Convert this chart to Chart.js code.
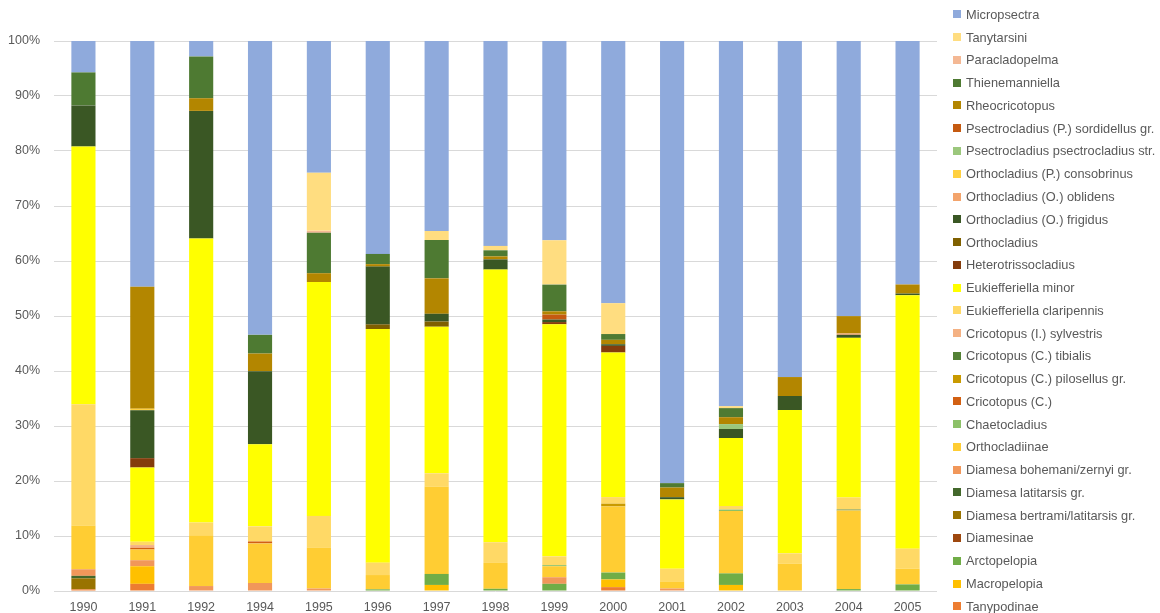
<!DOCTYPE html>
<html>
<head>
<meta charset="utf-8">
<script src="https://cdn.jsdelivr.net/npm/chart.js"></script>
<style>
  body { margin: 0; background: #fff; }
  #wrap { position: relative; width: 1160px; height: 613px; }
  #legend { position: absolute; left: 953px; top: 3px; font-family: "Liberation Sans", sans-serif; font-size: 12.8px; color: #595959; }
  #legend .item { height: 22.77px; display: flex; align-items: center; white-space: nowrap; }
  #legend .box { width: 8px; height: 8px; margin-right: 5px; flex: none; }
</style>
</head>
<body>
<div id="wrap">
  <canvas id="chironomides" width="1160" height="613"></canvas>
  <div id="legend"></div>
</div>
<script>
// Années échantillonnées
var annees = ['1990', '1991', '1992', '1994', '1995', '1996', '1997', '1998', '1999', '2000', '2001', '2002', '2003', '2004', '2005'];

// Part de chaque taxon (%) par année
var tanypodinae          = [0.3, 1.3, 0, 0, 0, 0, 0, 0, 0, 0.7, 0, 0, 0, 0, 0];
var macropelopia         = [0, 3.2, 0, 0, 0, 0, 1.1, 0, 0, 1.4, 0, 1.1, 0, 0, 0];
var arctopelopia         = [0, 0, 0, 0, 0, 0.3, 2.0, 0.4, 1.3, 1.25, 0, 2.1, 0, 0.35, 1.2];
var diamesinae           = [0, 0, 0, 0, 0, 0, 0, 0, 0, 0, 0, 0, 0, 0, 0];
var diamesaBertrami      = [2.0, 0, 0, 0, 0, 0, 0, 0, 0, 0, 0, 0, 0, 0, 0];
var diamesaLatitarsis    = [0.45, 0, 0, 0, 0, 0, 0, 0, 0, 0, 0, 0, 0, 0, 0];
var diamesaBohemani      = [1.2, 1.1, 0.9, 1.45, 0.45, 0, 0, 0, 1.2, 0, 0.45, 0, 0, 0, 0];
var orthocladiinae       = [7.95, 1.95, 9.25, 7.2, 7.4, 2.6, 15.9, 4.7, 2.0, 12.0, 1.3, 11.35, 5.0, 14.3, 2.85];
var chaetocladius        = [0, 0, 0, 0, 0, 0, 0, 0, 0.2, 0, 0, 0.25, 0, 0, 0];
var cricotopusC          = [0, 0.3, 0, 0.35, 0, 0, 0, 0, 0, 0, 0, 0, 0, 0, 0];
var cricotopusPilosellus = [0, 0, 0, 0, 0, 0, 0, 0, 0, 0.5, 0, 0, 0, 0, 0];
var cricotopusTibialis   = [0, 0, 0, 0, 0, 0, 0, 0, 0, 0, 0, 0, 0, 0.15, 0];
var cricotopusSylvestris = [0, 0.5, 0, 0, 0, 0, 0, 0, 0, 0, 0, 0, 0, 0, 0];
var eukClaripennis       = [22.0, 0.6, 2.3, 2.75, 5.8, 2.25, 2.4, 3.75, 1.6, 1.2, 2.3, 0.65, 1.85, 2.2, 3.65];
var eukMinor             = [46.8, 13.5, 51.6, 14.9, 42.5, 42.45, 26.65, 49.5, 42.15, 26.25, 12.6, 12.35, 26.05, 29.0, 46.05];
var heterotrissocladius  = [0, 1.7, 0, 0, 0, 0, 0, 0, 0.4, 1.2, 0, 0, 0, 0, 0];
var orthocladius         = [0, 0, 0, 0, 0, 0.85, 0.95, 0, 0, 0, 0, 0, 0, 0, 0];
var orthoFrigidus        = [7.45, 8.7, 23.2, 13.3, 0, 10.5, 1.4, 1.85, 0.45, 0.3, 0.4, 1.65, 2.55, 0.55, 0.3];
var orthoOblidens        = [0, 0, 0, 0, 0, 0, 0, 0, 0, 0, 0, 0, 0, 0.25, 0];
var orthoConsobrinus     = [0, 0.3, 0, 0, 0, 0, 0, 0, 0, 0, 0, 0, 0, 0, 0];
var psectroPsectro       = [0, 0, 0, 0, 0, 0, 0, 0, 0, 0, 0, 0.9, 0, 0, 0];
var psectroSordidellus   = [0, 0, 0, 0, 0, 0, 0, 0, 0.9, 0, 0, 0, 0, 0, 0];
var rheocricotopus       = [0, 22.15, 2.3, 3.2, 1.6, 0.45, 6.45, 0.55, 0.6, 0.8, 1.75, 1.25, 3.45, 3.15, 1.65];
var thienemanniella      = [6.0, 0, 7.6, 3.4, 7.35, 1.85, 6.95, 1.1, 4.85, 1.05, 0.8, 1.65, 0, 0, 0];
var paracladopelma       = [0, 0, 0, 0, 0.35, 0, 0, 0, 0, 0, 0, 0, 0, 0, 0];
var tanytarsini          = [0, 0, 0, 0, 10.55, 0, 1.65, 0.8, 8.05, 5.6, 0, 0.35, 0, 0, 0];
var micropsectra         = [5.7, 44.7, 2.8, 53.4, 23.95, 38.7, 34.55, 37.2, 36.2, 47.6, 80.35, 66.4, 61.1, 50.0, 44.25];

// Empilement du bas vers le haut
var taxons = [
  ['Tanypodinae', tanypodinae],
  ['Macropelopia', macropelopia],
  ['Arctopelopia', arctopelopia],
  ['Diamesinae', diamesinae],
  ['Diamesa bertrami/latitarsis gr.', diamesaBertrami],
  ['Diamesa latitarsis gr.', diamesaLatitarsis],
  ['Diamesa bohemani/zernyi gr.', diamesaBohemani],
  ['Orthocladiinae', orthocladiinae],
  ['Chaetocladius', chaetocladius],
  ['Cricotopus (C.)', cricotopusC],
  ['Cricotopus (C.) pilosellus gr.', cricotopusPilosellus],
  ['Cricotopus (C.) tibialis', cricotopusTibialis],
  ['Cricotopus (I.) sylvestris', cricotopusSylvestris],
  ['Eukiefferiella claripennis', eukClaripennis],
  ['Eukiefferiella minor', eukMinor],
  ['Heterotrissocladius', heterotrissocladius],
  ['Orthocladius', orthocladius],
  ['Orthocladius (O.) frigidus', orthoFrigidus],
  ['Orthocladius (O.) oblidens', orthoOblidens],
  ['Orthocladius (P.) consobrinus', orthoConsobrinus],
  ['Psectrocladius psectrocladius str.', psectroPsectro],
  ['Psectrocladius (P.) sordidellus gr.', psectroSordidellus],
  ['Rheocricotopus', rheocricotopus],
  ['Thienemanniella', thienemanniella],
  ['Paracladopelma', paracladopelma],
  ['Tanytarsini', tanytarsini],
  ['Micropsectra', micropsectra]
];

// Couleurs dans le même ordre
var couleurs = [
  '#ED7D31', '#FFC000', '#70AD47', '#9E480E', '#997300', '#43682B', '#F1975A',
  '#FFCD33', '#8CC168', '#D26012', '#C99A00', '#538135', '#F4B183', '#FFD966',
  '#FFFF00', '#843C0C', '#7F6000', '#3A5724', '#F3A46C', '#FFD040', '#9BC77C',
  '#C55A11', '#B38600', '#4E7A32', '#F4B894', '#FFDD80', '#8FAADC'
];

// Total par année pour ramener chaque colonne à 100 %
var totaux = annees.map(function (a, i) {
  return taxons.reduce(function (s, t) { return s + t[1][i]; }, 0);
});

var datasets = taxons.map(function (t, k) {
  return {
    label: t[0],
    data: t[1].map(function (v, i) { return v / totaux[i] * 100; }),
    backgroundColor: couleurs[k],
    borderWidth: 0,
    barPercentage: 0.41,
    categoryPercentage: 1
  };
});

var ctx = document.getElementById('chironomides').getContext('2d');
var chart = new Chart(ctx, {
  type: 'bar',
  data: { labels: annees, datasets: datasets },
  options: {
    responsive: false,
    animation: false,
    layout: { padding: { top: 41, right: 223, bottom: 0, left: 0 } },
    scales: {
      x: {
        stacked: true,
        grid: { display: false, drawTicks: false },
        border: { display: false },
        ticks: { color: '#595959', padding: 9, font: { family: 'Liberation Sans', size: 12.5 } },
        afterFit: function (scale) { scale.height = 22; }
      },
      y: {
        stacked: true,
        min: 0,
        max: 100,
        grid: { color: '#D9D9D9', drawTicks: false },
        border: { display: false },
        ticks: {
          stepSize: 10,
          color: '#595959',
          padding: 14,
          font: { family: 'Liberation Sans', size: 12.5 },
          callback: function (v) { return v + '%'; }
        },
        afterFit: function (scale) { scale.width = 54; }
      }
    },
    plugins: {
      legend: { display: false },
      tooltip: { enabled: false }
    }
  }
});

// Légende HTML, ordre inversé (haut de la pile en premier)
var legende = document.getElementById('legend');
chart.data.datasets.slice().reverse().forEach(function (ds) {
  var item = document.createElement('div');
  item.className = 'item';
  var box = document.createElement('span');
  box.className = 'box';
  box.style.background = ds.backgroundColor;
  item.appendChild(box);
  item.appendChild(document.createTextNode(ds.label));
  legende.appendChild(item);
});
</script>
</body>
</html>
